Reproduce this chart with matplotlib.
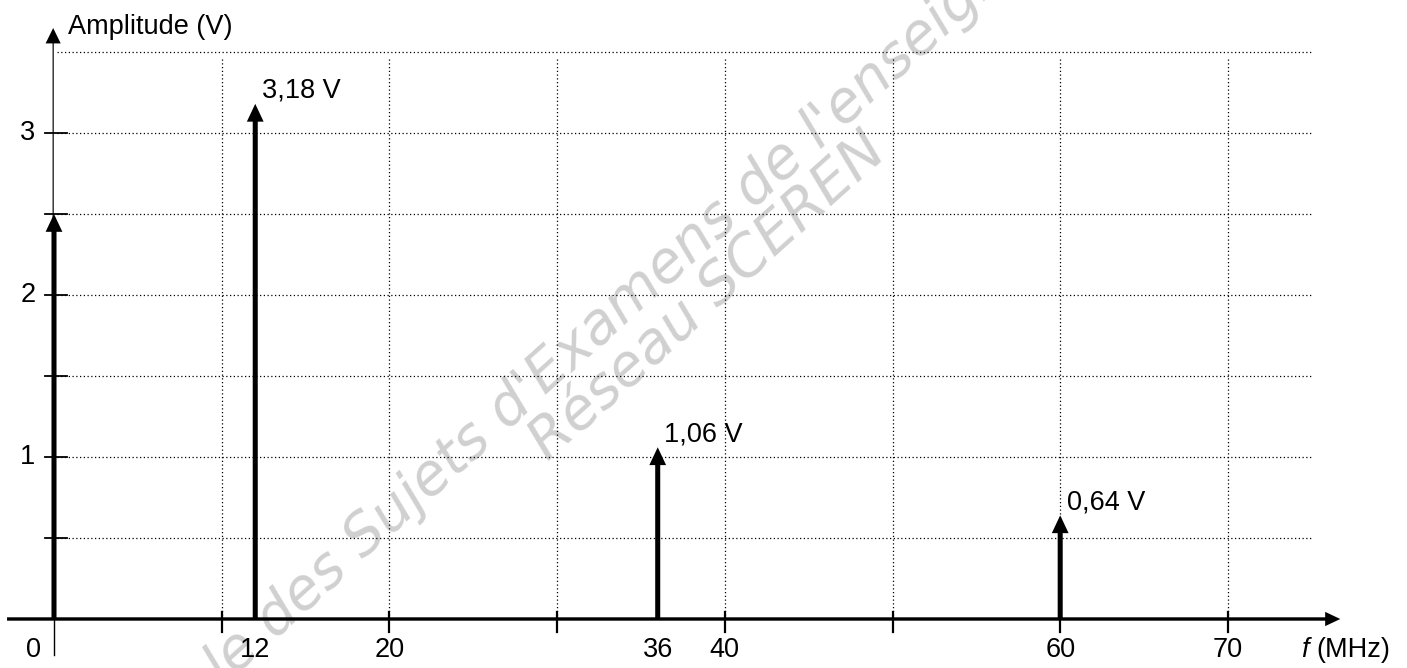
import matplotlib
matplotlib.use('Agg')
import matplotlib.pyplot as plt

# spectral lines
freqs = [0, 12, 36, 60]            # MHz
amps = [2.5, 3.18, 1.06, 0.64]     # V
amp_labels = ['', '3,18 V', '1,06 V', '0,64 V']

x_ticks = [10, 20, 30, 40, 50, 60, 70]
x_labels = ['0', '12', '20', '36', '40', '60', '70']
x_label_pos = [-1.25, 12, 20, 36, 40, 60, 70]
y_ticks = [0.5, 1, 1.5, 2, 2.5, 3]
y_labels = {1: '1', 2: '2', 3: '3'}
grid_y = [0.5, 1, 1.5, 2, 2.5, 3, 3.5]

plt.rcParams['font.family'] = ['Liberation Sans', 'DejaVu Sans']
FS = 19.5

fig = plt.figure(figsize=(14.07, 6.68), dpi=100)
ax = fig.add_axes([0, 0, 1, 1])
ax.set_xlim(-54 / 16.77, (1407 - 54) / 16.77)
ax.set_ylim(-49 / 162, 619 / 162)
ax.axis('off')

# watermark
wm = dict(color='#d0d0d0', fontsize=41, rotation=42, rotation_mode='anchor',
          va='baseline', family='DejaVu Sans', style='oblique', zorder=0)
ax.text(13.2, -0.13, 'Base Nationale ', ha='right', **wm)
ax.text(13.2, -0.13, "des Sujets d'Examens de l'enseignement professionnel", ha='left', **wm)
ax.text(29.5, 0.97, 'Réseau SCEREN', ha='left', **wm)

# dotted grid
dot = dict(color='black', lw=0.9, ls=(0, (1, 2)), zorder=1)
for g in grid_y:
    ax.plot([0.2, 75], [g, g], **dot)
for t in x_ticks:
    ax.plot([t, t], [0, 3.47], **dot)

# axes with arrows
ax.arrow(-2.8, 0, 79.5, 0, width=0.021, head_width=0.088, head_length=0.9,
         length_includes_head=True, color='black', lw=0, zorder=3)
ax.arrow(-0.05, 0, 0, 3.648, width=0.07, head_width=0.9, head_length=0.095,
         length_includes_head=True, color='black', lw=0, zorder=3)
ax.plot([0, 0], [0, -0.22], color='black', lw=1.0, zorder=3)

# ticks
for t in x_ticks:
    ax.plot([t, t], [0.045, -0.08], color='black', lw=1.6, zorder=3)
for t in y_ticks:
    ax.plot([-0.55, 0.8], [t, t], color='black', lw=1.3, zorder=3)

# spectral lines
for f, a, lab in zip(freqs, amps, amp_labels):
    ax.arrow(f, 0, 0, a, width=0.3, head_width=1.0, head_length=0.11,
             length_includes_head=True, color='black', lw=0, zorder=4)
    if lab:
        ax.text(f + 0.4, a + 0.08, lab, fontsize=FS, ha='left', va='center', zorder=5)

# tick labels
for lab, p in zip(x_labels, x_label_pos):
    ax.text(p, -0.19, lab, fontsize=FS, ha='center', va='center')
for v, lab in y_labels.items():
    ax.text(-1.1, v, lab, fontsize=FS, ha='right', va='center')

ax.text(0.85, 3.611, 'Amplitude (V)', fontsize=FS, ha='left', va='baseline')
ax.text(74.35, -0.19, 'f', fontsize=FS, style='italic', ha='left', va='center')
ax.text(75.25, -0.19, '(MHz)', fontsize=FS, ha='left', va='center')

fig.savefig('out.png', dpi=100, facecolor='white')
